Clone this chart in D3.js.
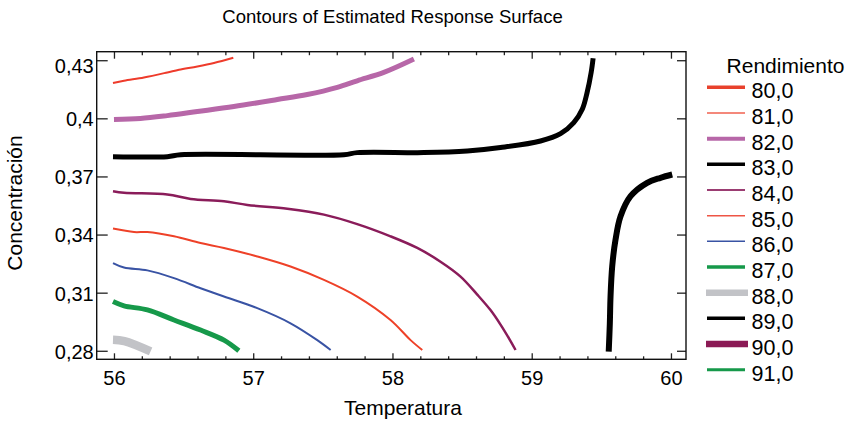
<!DOCTYPE html>
<html>
<head>
<meta charset="utf-8">
<script src="https://cdn.jsdelivr.net/npm/d3@7"></script>
<style>
  body { margin: 0; background: #fff; }
  svg { display: block; font-family: "Liberation Sans", Arial, sans-serif; }
  .tick line { stroke: #222; stroke-width: 1.3; }
  .tick text { fill: #000; font-size: 20px; }
</style>
</head>
<body>
<script>
// data: [Temperatura, Concentración]
const contour81 = [[55.993,0.4182],[56.072,0.4194],[56.215,0.4211],[56.383,0.4237],[56.467,0.4251],[56.599,0.4268],[56.718,0.4286],[56.857,0.4313]];
const contour82 = [[56.0,0.3994],[56.19,0.3999],[56.383,0.4014],[56.599,0.4035],[56.861,0.4061],[57.173,0.4097],[57.388,0.4123],[57.604,0.4160],[57.747,0.4194],[57.938,0.4237],[58.154,0.4306]];
const contour83a = [[55.993,0.3802],[56.383,0.3802],[56.479,0.3812],[57.651,0.3812],[57.747,0.3823],[58.225,0.3823],[58.537,0.3831],[58.776,0.3849],[59.063,0.3883],[59.207,0.3921],[59.302,0.3978],[59.363,0.4047],[59.398,0.4134],[59.427,0.4237],[59.441,0.4310]];
const contour83b = [[59.553,0.2795],[59.561,0.2942],[59.566,0.3080],[59.578,0.3235],[59.602,0.3374],[59.638,0.3494],[59.710,0.3598],[59.829,0.3667],[59.925,0.3693],[60.009,0.3710]];
const contour84 = [[55.993,0.3624],[56.072,0.3616],[56.383,0.3607],[56.551,0.3584],[56.790,0.3572],[56.958,0.3553],[57.245,0.3533],[57.508,0.3503],[57.747,0.3454],[57.986,0.3391],[58.178,0.3331],[58.345,0.3260],[58.489,0.3183],[58.609,0.3090],[58.704,0.3010],[58.776,0.2935],[58.848,0.2850],[58.884,0.2804]];
const contour85 = [[55.993,0.3431],[56.144,0.3413],[56.240,0.3413],[56.431,0.3391],[56.622,0.3356],[56.790,0.3331],[57.029,0.3287],[57.268,0.3235],[57.508,0.3166],[57.747,0.3080],[57.986,0.2959],[58.130,0.2855],[58.214,0.2804]];
const contour86 = [[55.993,0.3253],[56.072,0.3230],[56.240,0.3215],[56.431,0.3175],[56.622,0.3123],[56.790,0.3080],[57.029,0.3020],[57.268,0.2942],[57.460,0.2855],[57.556,0.2804]];
const contour87 = [[55.993,0.3054],[56.072,0.3032],[56.240,0.3011],[56.431,0.2959],[56.622,0.2907],[56.790,0.2855],[56.897,0.2800]];
const contour88 = [[55.993,0.2857],[56.075,0.2850],[56.263,0.2797]];

const legendLevels = ["80,0","81,0","82,0","83,0","84,0","85,0","86,0","87,0","88,0","89,0","90,0","91,0"];
const xTicks = [56, 57, 58, 59, 60];
const xTickLabels = ["56", "57", "58", "59", "60"];
const yTicks = [0.28, 0.31, 0.34, 0.37, 0.40, 0.43];
const yTickLabels = ["0,28", "0,31", "0,34", "0,37", "0,4", "0,43"];

const contours = [
  { level: "81,0", pts: contour81 },
  { level: "82,0", pts: contour82 },
  { level: "83,0", pts: contour83a },
  { level: "83,0", pts: contour83b, heavy: true },
  { level: "84,0", pts: contour84 },
  { level: "85,0", pts: contour85 },
  { level: "86,0", pts: contour86 },
  { level: "87,0", pts: contour87 },
  { level: "88,0", pts: contour88 }
];

// line styles
const plotStyle = {
  "81,0": { c: "#ee3b2b", w: 2 },
  "82,0": { c: "#b767a8", w: 5 },
  "83,0": { c: "#000000", w: 5 },
  "84,0": { c: "#8a1c5a", w: 2.5 },
  "85,0": { c: "#ee4128", w: 2 },
  "86,0": { c: "#3953a4", w: 2 },
  "87,0": { c: "#16994a", w: 5 },
  "88,0": { c: "#c2c3c7", w: 8.5 }
};
const legendStyle = {
  "80,0": { c: "#e8412c", w: 3.5 },
  "81,0": { c: "#f0604f", w: 1.5 },
  "82,0": { c: "#b767a8", w: 4 },
  "83,0": { c: "#000000", w: 3.5 },
  "84,0": { c: "#9b3d72", w: 2 },
  "85,0": { c: "#ee5545", w: 1.5 },
  "86,0": { c: "#3953a4", w: 1.5 },
  "87,0": { c: "#16994a", w: 3.5 },
  "88,0": { c: "#c2c3c7", w: 6.5, long: true },
  "89,0": { c: "#000000", w: 3.5 },
  "90,0": { c: "#8b1a55", w: 6.5, long: true },
  "91,0": { c: "#16994a", w: 3 }
};

const W = 849, H = 422;
const pLeft = 96.7, pRight = 686, pTop = 51.7, pBottom = 359.3;

const svg = d3.select("body").append("svg").attr("width", W).attr("height", H);

const x = d3.scaleLinear().domain([55.876, 60.108]).range([pLeft, pRight]);
const y = d3.scaleLinear().domain([0.2756, 0.4344]).range([pBottom, pTop]);

svg.append("defs").append("clipPath").attr("id", "plot")
  .append("rect").attr("x", pLeft).attr("y", pTop)
  .attr("width", pRight - pLeft).attr("height", pBottom - pTop);

// contours
const line = d3.line().x(d => x(d[0])).y(d => y(d[1])).curve(d3.curveCatmullRom.alpha(0.5));
svg.append("g").attr("clip-path", "url(#plot)")
  .selectAll("path")
  .data(contours)
  .join("path")
  .attr("d", d => line(d.pts))
  .attr("fill", "none")
  .attr("stroke", d => plotStyle[d.level].c)
  .attr("stroke-width", d => plotStyle[d.level].w + (d.heavy ? 1 : 0))
  .attr("stroke-linejoin", "round");

// axes
const minorX = d3.range(55.8, 60.2, 0.2).map(v => +v.toFixed(1))
  .filter(v => v > 55.88 && v < 60.1 && !Number.isInteger(v));

svg.append("g").attr("transform", `translate(0,${pBottom})`)
  .call(d3.axisBottom(x).tickValues(xTicks).tickSize(-6).tickPadding(12)
    .tickFormat((d, i) => xTickLabels[i]));
svg.append("g").attr("transform", `translate(0,${pBottom})`)
  .call(d3.axisBottom(x).tickValues(minorX).tickSize(-3).tickFormat(""));
svg.append("g").attr("transform", `translate(0,${pTop})`)
  .call(d3.axisTop(x).tickValues(xTicks).tickSize(-7).tickFormat(""));
svg.append("g").attr("transform", `translate(0,${pTop})`)
  .call(d3.axisTop(x).tickValues(minorX).tickSize(-3.5).tickFormat(""));

const yAxis = svg.append("g").attr("transform", `translate(${pLeft},0)`)
  .call(d3.axisLeft(y).tickValues(yTicks).tickSize(-11).tickPadding(3)
    .tickFormat((d, i) => yTickLabels[i]));
yAxis.selectAll("text").attr("dy", (d, i) => i === yTicks.length - 1 ? "0.62em" : "0.37em");
svg.append("g").attr("transform", `translate(${pRight},0)`)
  .call(d3.axisRight(y).tickValues(yTicks).tickSize(-9).tickFormat(""));

svg.selectAll(".domain").remove();

svg.append("rect")
  .attr("x", pLeft).attr("y", pTop)
  .attr("width", pRight - pLeft).attr("height", pBottom - pTop)
  .attr("fill", "none").attr("stroke", "#111").attr("stroke-width", 1.4);

// titles
svg.append("text").attr("x", 392.5).attr("y", 22.5).attr("text-anchor", "middle")
  .style("font-size", "18.5px").text("Contours of Estimated Response Surface");
svg.append("text").attr("x", 403).attr("y", 415).attr("text-anchor", "middle")
  .style("font-size", "21px").text("Temperatura");
svg.append("text").attr("transform", "translate(22,203) rotate(-90)").attr("text-anchor", "middle")
  .style("font-size", "21px").text("Concentración");

// legend
const legend = svg.append("g");
legend.append("text").attr("x", 785.5).attr("y", 73).attr("text-anchor", "middle")
  .style("font-size", "21px").text("Rendimiento");
const item = legend.selectAll("g.item").data(legendLevels).join("g")
  .attr("class", "item")
  .attr("transform", (d, i) => `translate(0,${98.3 + i * 25.67})`);
item.append("line")
  .attr("x1", d => legendStyle[d].long ? 706 : 707)
  .attr("x2", d => legendStyle[d].long ? 748 : 745)
  .attr("y1", -11).attr("y2", -11)
  .attr("stroke", d => legendStyle[d].c)
  .attr("stroke-width", d => legendStyle[d].w);
item.append("text").attr("x", 751.5).attr("y", 0)
  .style("font-size", "21.5px").text(d => d);
</script>
</body>
</html>
